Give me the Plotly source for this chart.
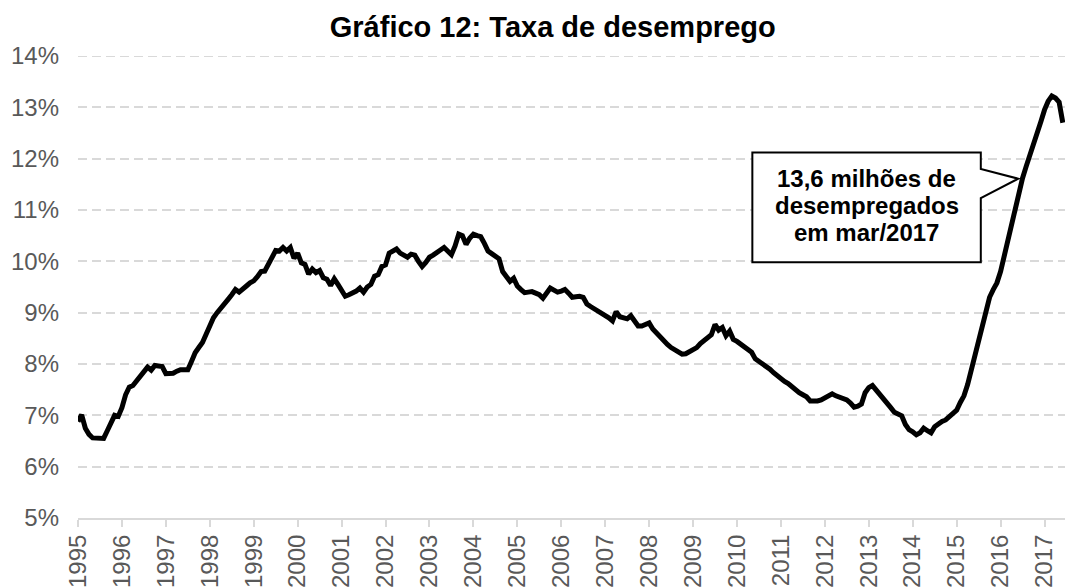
import plotly.graph_objects as go

# Year labels on the horizontal axis (one tick each January)
anos = [str(a) for a in range(1995, 2018)]

# Monthly unemployment rate (%), Jan/1995 onwards
taxa = [
    6.88, 7.01, 6.75, 6.63, 6.56, 6.55, 6.56, 6.55, 6.70, 6.85, 7.00, 6.98,   # 1995
    7.15, 7.40, 7.55, 7.58, 7.67, 7.76, 7.85, 7.94, 7.88, 7.97, 7.96, 7.95,   # 1996
    7.81, 7.81, 7.82, 7.86, 7.89, 7.89, 7.89, 8.05, 8.22, 8.32, 8.42, 8.58,   # 1997
    8.74, 8.90, 9.00, 9.10, 9.17, 9.26, 9.35, 9.45, 9.40, 9.45, 9.52, 9.58,   # 1998
    9.62, 9.70, 9.80, 9.81, 9.95, 10.10, 10.21, 10.20, 10.27, 10.20, 10.27, 10.06,  # 1999
    10.16, 9.97, 9.94, 9.75, 9.85, 9.78, 9.82, 9.68, 9.65, 9.53, 9.66, 9.55,  # 2000
    9.45, 9.32, 9.35, 9.38, 9.42, 9.48, 9.40, 9.50, 9.55, 9.71, 9.74, 9.90,   # 2001
    9.93, 10.16, 10.20, 10.24, 10.16, 10.12, 10.08, 10.14, 10.12, 10.00, 9.90, 9.98,  # 2002
    10.08, 10.12, 10.16, 10.22, 10.27, 10.20, 10.13, 10.30, 10.53, 10.50, 10.33, 10.45,  # 2003
    10.53, 10.50, 10.48, 10.35, 10.20, 10.15, 10.10, 10.05, 9.80, 9.70, 9.61, 9.67,  # 2004
    9.52, 9.45, 9.39, 9.40, 9.41, 9.38, 9.35, 9.28, 9.38, 9.48, 9.44, 9.40,   # 2005
    9.42, 9.45, 9.38, 9.30, 9.31, 9.32, 9.30, 9.17, 9.12, 9.08, 9.02, 9.00,   # 2006
    8.95, 8.90, 8.84, 9.02, 8.92, 8.90, 8.88, 8.94, 8.85, 8.74, 8.74, 8.76,   # 2007
    8.80, 8.68, 8.60, 8.53, 8.47, 8.38, 8.32, 8.27, 8.23, 8.19, 8.20, 8.24,   # 2008
    8.28, 8.32, 8.40, 8.46, 8.52, 8.57, 8.77, 8.66, 8.71, 8.55, 8.64, 8.48,   # 2009
    8.44, 8.39, 8.34, 8.30, 8.23, 8.10, 8.05, 8.00, 7.96, 7.90, 7.83, 7.77,   # 2010
    7.70, 7.66, 7.62, 7.56, 7.48, 7.44, 7.40, 7.36, 7.28, 7.27, 7.28, 7.30,   # 2011
    7.34, 7.38, 7.42, 7.38, 7.35, 7.34, 7.30, 7.24, 7.16, 7.18, 7.22, 7.44,   # 2012
    7.54, 7.58, 7.50, 7.42, 7.32, 7.24, 7.15, 7.06, 7.03, 6.99, 6.82, 6.72,   # 2013
    6.68, 6.62, 6.66, 6.75, 6.70, 6.66, 6.78, 6.84, 6.88, 6.91, 6.97, 7.05,   # 2014
    7.10, 7.25, 7.38, 7.60, 7.90, 8.20, 8.50, 8.75, 9.05, 9.30, 9.45, 9.58,   # 2015
    9.80, 10.10, 10.45, 10.77, 11.00, 11.30, 11.62, 11.85, 12.05, 12.25, 12.45, 12.72,  # 2016
    12.95, 13.12, 13.22, 13.18, 13.10, 12.70,                                 # 2017
]
meses = list(range(len(taxa)))

# Callout text
anotacao = ["13,6 milhões de", "desempregados", "em mar/2017"]

FONT = "Liberation Sans, Arial, sans-serif"
GRAY_TXT = "#595959"
GRAY_LINE = "#d9d9d9"
Y_MIN, Y_MAX = 5, 14

fig = go.Figure()
fig.add_trace(go.Scatter(
    x=meses, y=taxa, mode="lines",
    line=dict(color="black", width=5),
    hoverinfo="skip", showlegend=False,
))

# Top gridline sits on the plot edge, so draw it explicitly
fig.add_shape(type="line", xref="paper", yref="y", x0=0, x1=1, y0=Y_MAX, y1=Y_MAX,
              line=dict(color=GRAY_LINE, width=2, dash="9px,5px"), layer="below")

# Callout box with pointer towards the curve (data coordinates)
bx0, bx1, by0, by1 = 184.2, 246.6, 9.98, 12.12
py_top, py_bot = 11.80, 11.23
tip_x, tip_y = 256.8, 11.61
path = (f"M {bx0},{by1} L {bx1},{by1} L {bx1},{py_top} L {tip_x},{tip_y} "
        f"L {bx1},{py_bot} L {bx1},{by0} L {bx0},{by0} Z")
fig.add_shape(type="path", path=path, xref="x", yref="y",
              line=dict(color="black", width=2), fillcolor="white", layer="above")

cx = (bx0 + bx1) / 2
line_y = [11.61, 11.09, 10.57]
for txt, yy in zip(anotacao, line_y):
    fig.add_annotation(x=cx, y=yy, xref="x", yref="y", text=f"<b>{txt}</b>",
                       showarrow=False, xanchor="center", yanchor="middle",
                       font=dict(family=FONT, size=24, color="black"))

fig.update_layout(
    width=1065, height=588,
    margin=dict(l=78, r=0, t=56, b=66),
    paper_bgcolor="white", plot_bgcolor="white",
    title=dict(text="<b>Gráfico 12: Taxa de desemprego</b>",
               x=0.481, xref="paper", xanchor="center",
               y=1 - 27 / 588, yref="container", yanchor="middle",
               font=dict(family=FONT, size=29, color="black")),
    font=dict(family=FONT, color=GRAY_TXT),
)

fig.update_xaxes(
    range=[0, 269.6],
    tickvals=[12 * i for i in range(len(anos))], ticktext=anos,
    tickangle=-90, tickfont=dict(family=FONT, size=24, color=GRAY_TXT),
    showgrid=False, zeroline=False,
    showline=True, linecolor=GRAY_LINE, linewidth=2,
    ticks="outside", ticklen=7, tickwidth=2, tickcolor=GRAY_LINE,
    ticklabelstandoff=-2,
)
fig.update_yaxes(
    range=[Y_MIN, Y_MAX], dtick=1, tick0=Y_MIN, ticksuffix="%",
    tickfont=dict(family=FONT, size=24, color=GRAY_TXT),
    showgrid=True, gridcolor=GRAY_LINE, gridwidth=2, griddash="9px,5px",
    zeroline=False, showline=False, ticks="", ticklabelstandoff=18,
)

fig.write_html("out.html")
